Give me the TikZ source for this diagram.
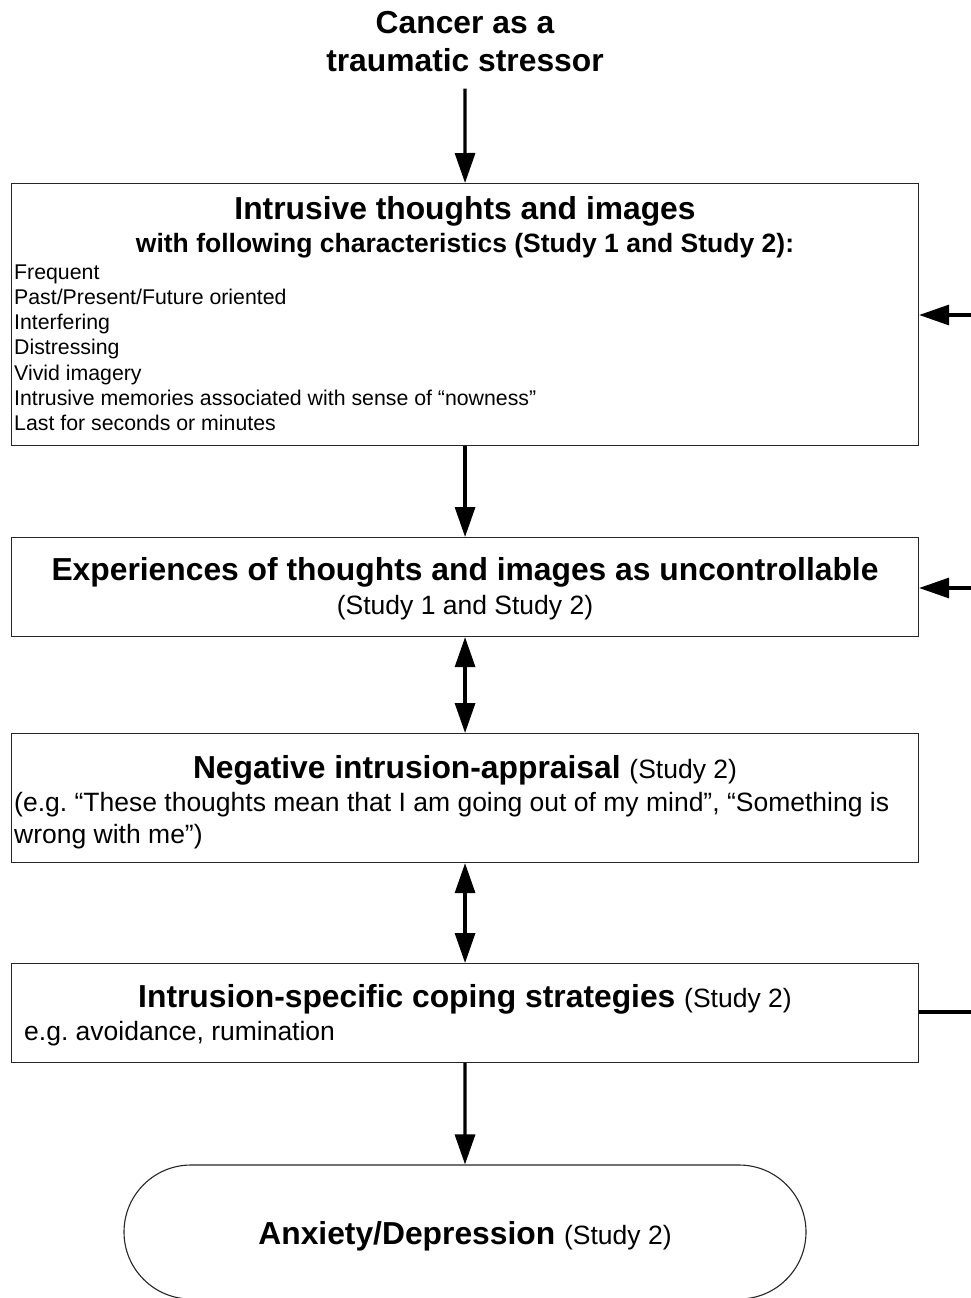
\documentclass[tikz,border=0pt]{standalone}
\usepackage{fontspec}
\setmainfont{Liberation Sans}
\frenchspacing
\usetikzlibrary{arrows.meta,shapes.misc}
\tikzset{
  box/.style={draw=black!85,line width=1.1pt,fill=white,anchor=north west,minimum width=907pt,inner sep=0pt},
  arr/.style={line width=3.2pt,-{Triangle[length=30pt,width=20pt]}},
  darr/.style={line width=3.2pt,{Triangle[length=30pt,width=20pt]}-{Triangle[length=30pt,width=20pt]}},
  bigt/.style={inner sep=0pt,anchor=base,font=\fontsize{31.8}{36}\selectfont\bfseries},
  midt/.style={inner sep=0pt,anchor=base,font=\fontsize{26.5}{30}\selectfont},
  listt/.style={inner sep=0pt,anchor=base west,font=\fontsize{21.3}{24}\selectfont},
}
\begin{document}
\begin{tikzpicture}[x=1pt,y=-1pt]
\useasboundingbox[fill=white] (0,0) rectangle (971,1298);
% title
\node[bigt] (title1) at (465,34) {Cancer as a};
\node[bigt] (title2) at (465,71) {traumatic stressor};
% boxes
\node[box,minimum height=262pt] (b1) at (11,183) {};
\node[box,minimum height=99pt] (b2) at (11,537) {};
\node[box,minimum height=129pt] (b3) at (11,733) {};
\node[box,minimum height=99pt] (b4) at (11,963) {};
\node[draw=black!85,line width=1.1pt,fill=white,rounded rectangle,rounded rectangle arc length=180,minimum width=682pt,minimum height=134pt,inner sep=0pt] (b5) at (465,1232) {};
% box 1 text
\node[bigt] (b1t) at (465,219.5) {Intrusive thoughts and images};
\node[midt,font=\fontsize{26.5}{30}\selectfont\bfseries] (b1s) at (465,252) {with following characteristics (Study 1 and Study 2):};
\node[listt] (l1) at (14,279) {Frequent};
\node[listt] (l2) at (14,304.3) {Past/Present/Future oriented};
\node[listt] (l3) at (14,329.6) {Interfering};
\node[listt] (l4) at (14,354.9) {Distressing};
\node[listt] (l5) at (14,380.2) {Vivid imagery};
\node[listt] (l6) at (14,405.5) {Intrusive memories associated with sense of “nowness”};
\node[listt] (l7) at (14,430.8) {Last for seconds or minutes};
% box 2 text
\node[bigt] (b2t) at (465,580) {Experiences of thoughts and images as uncontrollable};
\node[midt] (b2s) at (465,614) {(Study 1 and Study 2)};
% box 3 text
\node[midt] (b3t) at (465,778) {\fontsize{31.8}{36}\selectfont\bfseries Negative intrusion-appraisal \fontsize{26.5}{30}\selectfont\mdseries (Study 2)};
\node[midt,anchor=base west] (b3a) at (14,811) {(e.g. “These thoughts mean that I am going out of my mind”, “Something is};
\node[midt,anchor=base west] (b3b) at (14,843.5) {wrong with me”)};
% box 4 text
\node[midt] (b4t) at (465,1007) {\fontsize{31.8}{36}\selectfont\bfseries Intrusion-specific coping strategies \fontsize{26.5}{30}\selectfont\mdseries (Study 2)};
\node[midt,anchor=base west] (b4s) at (24,1040) {e.g. avoidance, rumination};
% box 5 text
\node[midt] (b5t) at (465,1244) {\fontsize{31.8}{36}\selectfont\bfseries Anxiety/Depression \fontsize{26.5}{30}\selectfont\mdseries (Study 2)};
% connectors
\draw[arr] ([yshift=-17pt]title2.south) -- (b1.north);
\draw[arr] (b1.south) -- (b2.north);
\draw[darr] (b2.south) -- (b3.north);
\draw[darr] (b3.south) -- (b4.north);
\draw[arr] (b4.south) -- (b5.north);
% feedback on the right
\coordinate (f1) at (971,315);
\coordinate (f2) at (971,588);
\coordinate (f3) at (971,1012);
\draw[arr] (f1) -- (b1.east |- f1);
\draw[arr] (f2) -- (b2.east |- f2);
\draw[line width=3.2pt] (b4.east |- f3) -- (f3);
\end{tikzpicture}
\end{document}
